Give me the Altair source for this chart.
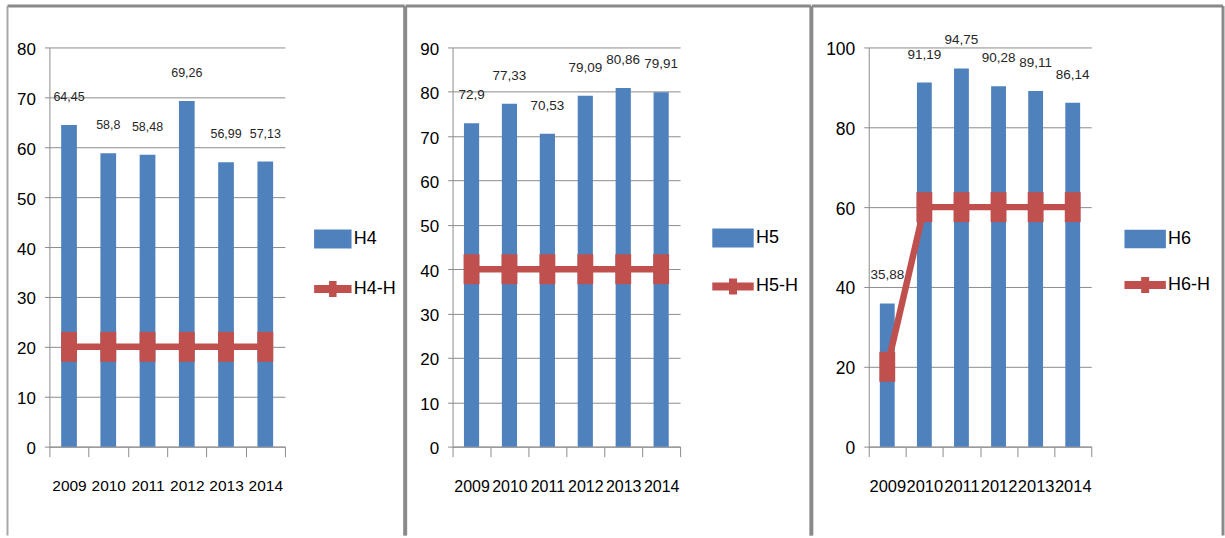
import altair as alt
import pandas as pd

# ---- data -------------------------------------------------------------
years = ["2009", "2010", "2011", "2012", "2013", "2014"]

h4_values = [64.45, 58.8, 58.48, 69.26, 56.99, 57.13]
h4_targets = [20, 20, 20, 20, 20, 20]

h5_values = [72.9, 77.33, 70.53, 79.09, 80.86, 79.91]
h5_targets = [40, 40, 40, 40, 40, 40]

h6_values = [35.88, 91.19, 94.75, 90.28, 89.11, 86.14]
h6_targets = [20, 60, 60, 60, 60, 60]

h4_ticks = [0, 10, 20, 30, 40, 50, 60, 70, 80]
h5_ticks = [0, 10, 20, 30, 40, 50, 60, 70, 80, 90]
h6_ticks = [0, 20, 40, 60, 80, 100]

# ---- styling ----------------------------------------------------------
BLUE = "#4F81BD"
RED = "#C0504D"
GRID = "#8c8c8c"
FRAME = "#8a8a8a"
FONT = "Liberation Sans"
PLOT_H = 400

# tall rectangle drawn at every target point
MARKER = "M-0.53,-1H0.53V1H-0.53Z"


def key_shapes(sym_w, bar_h, arm, cross_w, cross_h):
    """Legend glyphs (normalised to the symbol half-width)."""
    r = sym_w / 2.0

    def n(v):
        return f"{v / r:.3f}"

    bar = f"M-1,-{n(bar_h / 2)}H1V{n(bar_h / 2)}H-1Z"
    a, cw, ch = n(arm / 2), n(cross_w / 2), n(cross_h / 2)
    plus = (f"M-1,-{a}H-{cw}V-{ch}H{cw}V-{a}H1V{a}H{cw}V{ch}"
            f"H-{cw}V{a}H-1Z")
    return [bar, plus]


def panel(name, values, targets, ticks, width, frame, key, fonts):
    df = pd.DataFrame({"year": years, "value": values, "target": targets})
    year_fs, tick_fs, value_fs = fonts
    left, right, left_w, left_col = frame
    top, bottom = -41.5, 489

    x_enc = alt.X(
        "year:N", title=None,
        scale=alt.Scale(paddingInner=0, paddingOuter=0),
        axis=alt.Axis(labelAngle=0, labelFont=FONT, labelFontSize=year_fs,
                      labelColor="#000000", labelPadding=22,
                      tickBand="extent", tickSize=10, tickColor=GRID,
                      domainColor=GRID, grid=False),
    )
    y_scale = alt.Scale(domain=[0, ticks[-1]], nice=False)
    y_axis = alt.Axis(values=ticks, grid=True, gridColor=GRID, tickSize=5,
                      tickColor=GRID, domainColor=GRID, labelFont=FONT,
                      labelFontSize=tick_fs, labelColor="#000000",
                      labelPadding=9, labelOffset=2)

    base = alt.Chart(df)
    bars = base.mark_bar(color=BLUE, opacity=1,
                         width=alt.RelativeBandSize(0.4)).encode(
        x=x_enc,
        y=alt.Y("value:Q", title=None, scale=y_scale, axis=y_axis),
    )
    labels = base.transform_calculate(
        label="replace(toString(datum.value), '.', ',')"
    ).mark_text(dy=-28, font=FONT, fontSize=value_fs, color="#262626").encode(
        x=alt.X("year:N", title=None),
        y=alt.Y("value:Q", title=None),
        text="label:N",
    )
    line = base.mark_line(color=RED, strokeWidth=6.5).encode(
        x=alt.X("year:N", title=None),
        y=alt.Y("target:Q", title=None),
    )
    points = base.mark_point(shape=MARKER, size=900, filled=True, color=RED,
                             opacity=1, strokeWidth=0).encode(
        x=alt.X("year:N", title=None),
        y=alt.Y("target:Q", title=None),
    )

    lx, ly, sym_w, row_pad, shapes = key
    series = [name, name + "-H"]
    legend = alt.Legend(title=None, orient="none", legendX=lx, legendY=ly,
                        symbolSize=sym_w ** 2, symbolStrokeWidth=0,
                        symbolOpacity=1, labelFont=FONT, labelFontSize=18,
                        labelColor="#000000", labelOffset=2,
                        rowPadding=row_pad, padding=0, labelLimit=300)
    key_layer = alt.Chart(pd.DataFrame({"series": series})).transform_filter(
        "false"
    ).mark_point(filled=True, opacity=1).encode(
        color=alt.Color("series:N", legend=legend,
                        scale=alt.Scale(domain=series, range=[BLUE, RED])),
        shape=alt.Shape("series:N", legend=legend,
                        scale=alt.Scale(domain=series, range=shapes)),
    )

    # panel frame
    one = alt.Chart(pd.DataFrame({"k": [0]}))
    frame_top = one.mark_rule(color=FRAME, strokeWidth=3).encode(
        x=alt.value(left), x2=alt.value(right), y=alt.value(top))
    frame_left = one.mark_rule(color=left_col, strokeWidth=left_w).encode(
        x=alt.value(left), y=alt.value(top), y2=alt.value(bottom))
    frame_right = one.mark_rule(color=FRAME, strokeWidth=3).encode(
        x=alt.value(right), y=alt.value(top), y2=alt.value(bottom))

    return alt.layer(
        bars, labels, line, points, key_layer,
        frame_top, frame_left, frame_right,
    ).properties(width=width, height=PLOT_H)


p4 = panel("H4", h4_values, h4_targets, h4_ticks, 236,
           (-42, 356, 2, "#a8a8a8"),
           (265, 173, 37.5, 21, key_shapes(37.5, 19, 8, 7.5, 16)),
           (15.5, 17, 12.5))
p5 = panel("H5", h5_values, h5_targets, h5_ticks, 228,
           (-47, 359, 3, FRAME),
           (260, 170, 41.5, 17.5, key_shapes(41.5, 19, 8, 8, 16)),
           (16, 17, 13.5))
p6 = panel("H6", h6_values, h6_targets, h6_ticks, 223,
           (-57, 355, 3, FRAME),
           (256, 171, 41.5, 15, key_shapes(41.5, 18.5, 8, 8, 16)),
           (16.5, 17.5, 13.5))

chart = alt.hconcat(p4, p5, p6, spacing=-3).resolve_scale(
    x="independent", y="independent", color="independent", shape="independent"
).resolve_legend(color="independent", shape="independent").properties(
    padding={"left": 5.5, "top": 4, "right": 0, "bottom": 0},
    background="#ffffff",
).configure_view(stroke=None)

chart.save("out.html", embed_options={"renderer": "svg", "actions": False})
